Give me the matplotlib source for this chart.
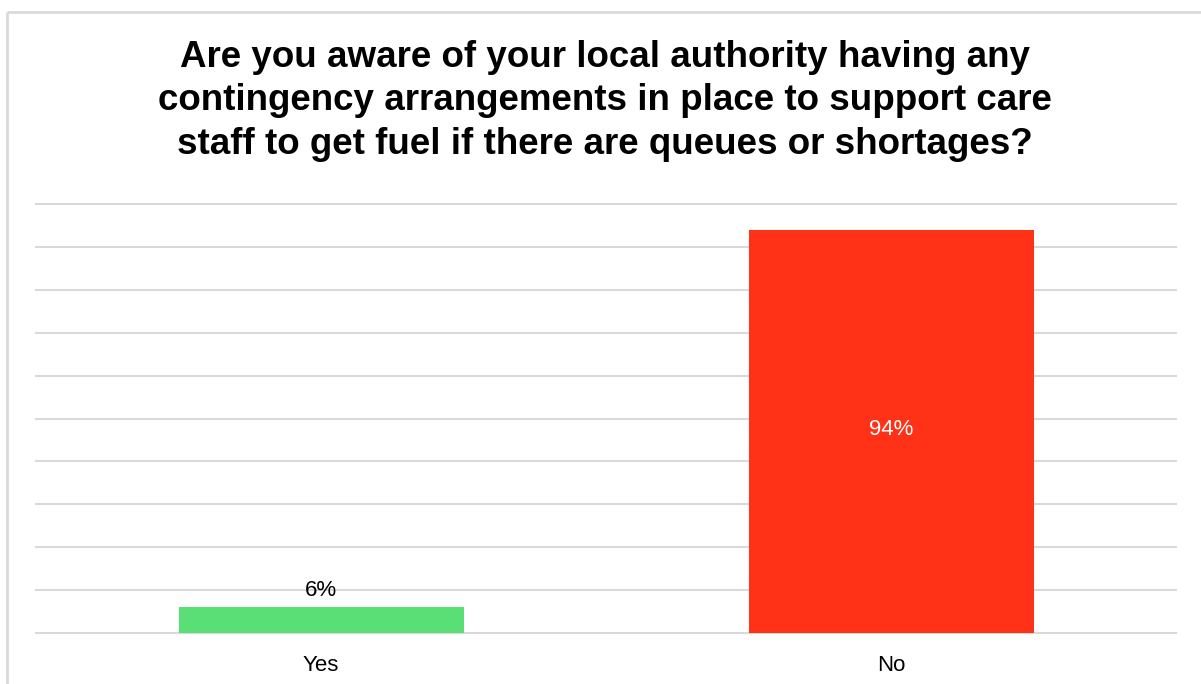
import matplotlib.pyplot as plt
from matplotlib.lines import Line2D

categories = ["Yes", "No"]
shares = [6, 94]
bar_colors = ["#59DF75", "#FF3117"]
title = ("Are you aware of your local authority having any\n"
         "contingency arrangements in place to support care\n"
         "staff to get fuel if there are queues or shortages?")

plt.rcParams["font.family"] = ["Liberation Sans", "DejaVu Sans"]

W, H = 1201, 684
fig = plt.figure(figsize=(W / 100, H / 100), dpi=100, facecolor="white")
ax = fig.add_axes([36 / W, 1 - 633 / H, 1140 / W, 429 / H])

x = range(len(categories))
bars = ax.bar(x, shares, width=0.5, color=bar_colors, zorder=3)

ax.set_xlim(-0.5, 1.5)
ax.set_ylim(0, 100)
ax.set_yticks(range(0, 101, 10))
ax.yaxis.grid(True, color="#D9D9D9", linewidth=1.5, zorder=0)
for gl in ax.get_ygridlines():
    gl.set_clip_on(False)
ax.set_axisbelow(True)
ax.tick_params(axis="y", left=False, labelleft=False)
ax.tick_params(axis="x", bottom=False, labelsize=16, pad=12)
ax.set_xticks(list(x))
ax.set_xticklabels(categories, color="#000000")
for s in ax.spines.values():
    s.set_visible(False)

# small bar gets its label above, tall bar inside in white
ax.text(0, shares[0] + 1.4, f"{shares[0]}%", ha="center", va="bottom",
        fontsize=16, color="#000000")
ax.text(1, shares[1] / 2 + 0.5, f"{shares[1]}%", ha="center", va="center",
        fontsize=16, color="white")

fig.text(0.504, 1 - 101 / H, title, ha="center", va="center",
         fontsize=26.5, fontweight="bold", linespacing=1.32)

# light frame: only the left and top edges fall inside the canvas
left, top = 6.5 / W, 1 - 11.5 / H
frame = dict(color="#D9D9D9", linewidth=2, transform=fig.transFigure,
             solid_capstyle="butt")
fig.add_artist(Line2D([left, left], [0, top], **frame))
fig.add_artist(Line2D([left, 1.01], [top, top], **frame))

fig.savefig("out.png", dpi=100, facecolor="white")
